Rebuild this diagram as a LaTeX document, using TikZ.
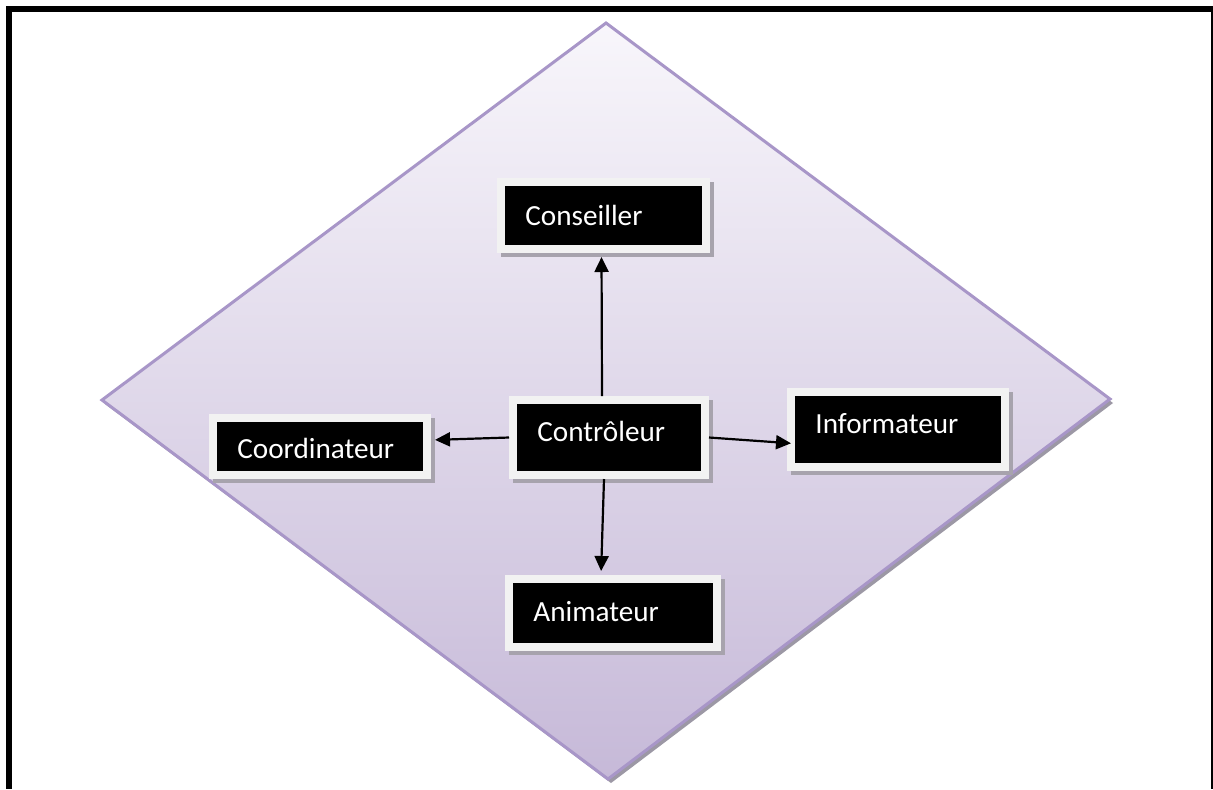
\documentclass[tikz,border=0pt]{standalone}
\usepackage{fontspec}
\setmainfont{Carlito}
\usetikzlibrary{arrows.meta,shadows}

\definecolor{rimlav}{HTML}{A896C8}
\definecolor{toplav}{HTML}{F8F6FB}
\definecolor{botlav}{HTML}{C6B9D8}
\definecolor{rimshade}{HTML}{9C98A5}
\definecolor{boxrim}{HTML}{F2F2F2}
\definecolor{boxshade}{HTML}{A7A3AD}

\tikzset{
  rolebox/.style={rectangle, fill=black, draw=boxrim, line width=4pt,
    inner sep=0pt,
    general shadow={fill=boxshade, draw=boxshade, line width=4pt,
      shadow xshift=2pt, shadow yshift=-2.2pt}},
  rolelabel/.style={anchor=base west, inner sep=0pt, text=white,
    font=\fontsize{14.6pt}{16pt}\selectfont},
  link/.style={line width=1.1pt, -{Triangle[length=7.5pt,width=7pt]}},
}

\begin{document}
\begin{tikzpicture}[x=0.5pt, y=-0.5pt]
  \useasboundingbox (0,0) rectangle (1213,789);
  \fill[white] (0,0) rectangle (1213,789);

  % page frame
  \fill[black] (6,6) rectangle (1213,12);
  \fill[black] (6,6) rectangle (12,789);
  \fill[black] (1211,6) rectangle (1213,789);

  % diamond background with its shadow
  \fill[rimshade] (609,27) -- (1113,403) -- (611,783) -- (105,404) -- cycle;
  \shade[top color=toplav, bottom color=botlav, draw=rimlav, line width=1.5pt, line join=miter]
    (606,23) -- (1110,399) -- (608,779) -- (102,400) -- cycle;

  % role boxes
  \node[rolebox, minimum width=102.5pt, minimum height=33.5pt] (cons) at (603.5,215.5) {};
  \node[rolebox, minimum width=107pt, minimum height=28.5pt] (coord) at (320,446.5) {};
  \node[rolebox, minimum width=96pt, minimum height=37.5pt] (ctrl) at (609,437.5) {};
  \node[rolebox, minimum width=107pt, minimum height=37.5pt] (info) at (898,429.5) {};
  \node[rolebox, minimum width=104pt, minimum height=34pt] (anim) at (613,613) {};

  % labels
  \node[rolelabel] (conslbl) at (525,225) {Conseiller};
  \node[rolelabel] (coordlbl) at (237,458) {Coordinateur};
  \node[rolelabel] (ctrllbl) at (537,441) {Contrôleur};
  \node[rolelabel] (infolbl) at (815,433) {Informateur};
  \node[rolelabel] (animlbl) at (533,621) {Animateur};

  % connectors
  \draw[link, shorten >=2pt] ([xshift=-3.5pt]ctrl.north) -- ([xshift=-1pt]cons.south);
  \draw[link, shorten >=2pt] (ctrl.west) -- ([yshift=3.25pt]coord.east);
  \draw[link, shorten >=-2pt] (ctrl.east) -- ([yshift=-6.75pt]info.west);
  \draw[link, shorten >=2pt] ([xshift=-2.5pt]ctrl.south) -- ([xshift=-6pt]anim.north);
\end{tikzpicture}
\end{document}
